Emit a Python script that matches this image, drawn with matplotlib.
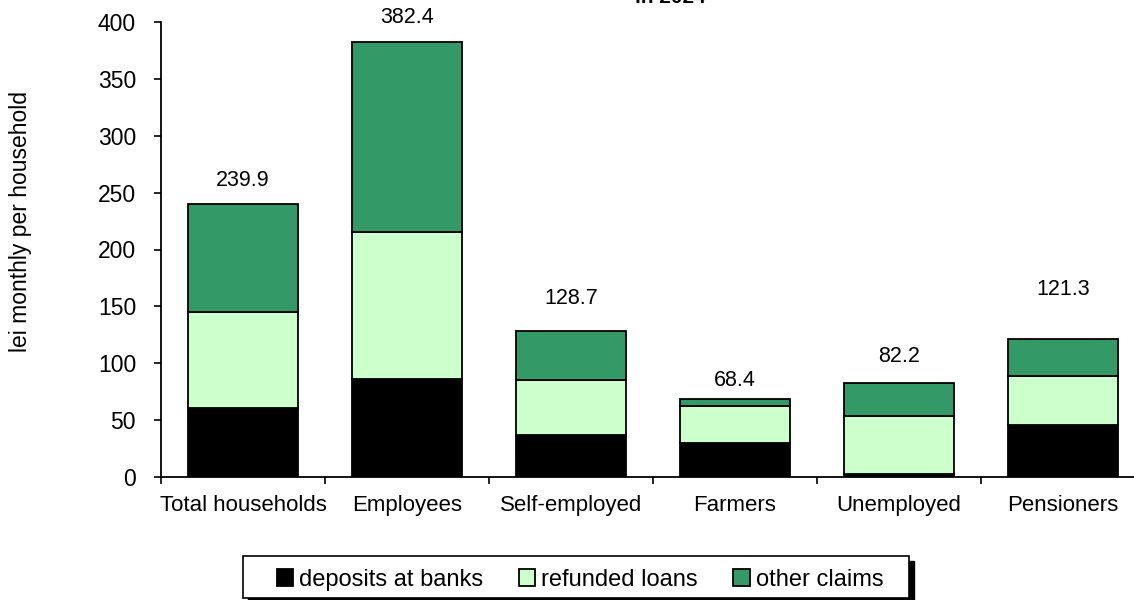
import matplotlib
matplotlib.use("Agg")
import matplotlib.pyplot as plt
from matplotlib.patches import Rectangle
import numpy as np

plt.rcParams['font.family'] = ['Liberation Sans', 'DejaVu Sans']

# data
categories = ['Total households', 'Employees', 'Self-employed', 'Farmers', 'Unemployed', 'Pensioners']
deposits = [61.0, 86.0, 37.0, 29.6, 3.0, 45.7]
refunded = [84.0, 129.4, 48.3, 32.8, 50.9, 43.1]
other = [94.9, 167.0, 43.4, 6.0, 28.3, 32.5]
totals = [239.9, 382.4, 128.7, 68.4, 82.2, 121.3]
series_names = ['deposits at banks', 'refunded loans', 'other claims']
colors = ['#000000', '#CCFFCC', '#339966']

# label offsets above bar tops (pixels)
label_pad = [24, 25, 32, 19, 27, 50]

fig = plt.figure(figsize=(11.34, 6.0), dpi=100)
ax = fig.add_axes([161 / 1134, 123 / 600, 984 / 1134, 455 / 600])

x = np.arange(len(categories))
w = 0.67
bottom = np.zeros(len(categories))
for vals, name, col in zip([deposits, refunded, other], series_names, colors):
    ax.bar(x, vals, w, bottom=bottom, color=col, edgecolor='black', linewidth=1.3, label=name, zorder=2)
    bottom += np.array(vals)

for xi, t, pad in zip(x, totals, label_pad):
    ax.annotate(f'{t:.1f}', (xi, t), xytext=(0, pad * 0.72), textcoords='offset points',
                ha='center', va='center', fontsize=15.5)

ax.set_xlim(-0.5, len(categories) - 0.5)
ax.set_ylim(0, 400)
ax.set_yticks(np.arange(0, 401, 50))
ax.set_xticks(x)
ax.set_xticklabels(categories, fontsize=16)
ax.set_xticks(np.arange(-0.5, len(categories), 1), minor=True)
ax.tick_params(axis='x', which='major', length=0, pad=13)
ax.tick_params(axis='x', which='minor', length=5, width=1.2, direction='out')
ax.tick_params(axis='y', length=5, width=1.2, direction='out', labelsize=16.5, pad=13)
for s in ['top', 'right']:
    ax.spines[s].set_visible(False)
for s in ['left', 'bottom']:
    ax.spines[s].set_linewidth(1.3)

fig.text(21 / 1134, 1 - 222 / 600, 'lei monthly per household', rotation=90,
         ha='center', va='center', fontsize=16.5)

# clipped title at the very top
fig.text(670 / 1134, 1 - 3 / 600, 'in 2024', ha='center', va='baseline',
         fontsize=15, fontweight='bold')

# legend box with shadow
bx0, by0, bw, bh = 243 / 1134, 2 / 600, 666 / 1134, 42 / 600
fig.add_artist(Rectangle((bx0 + 5 / 1134, by0 - 5 / 600), bw, bh, transform=fig.transFigure,
                         facecolor='black', edgecolor='black', zorder=1))
fig.add_artist(Rectangle((bx0, by0), bw, bh, transform=fig.transFigure,
                         facecolor='white', edgecolor='black', linewidth=1.2, zorder=2))

leg = fig.legend(loc='center', bbox_to_anchor=(bx0 + bw / 2 + 4 / 1134, by0 + bh / 2 - 3 / 600),
                 ncol=3, fontsize=17, frameon=False,
                 handlelength=0.7, handleheight=0.7, handletextpad=0.25,
                 borderaxespad=0, borderpad=0, columnspacing=1.5)
leg.set_zorder(3)

fig.savefig('out.png', dpi=100)
